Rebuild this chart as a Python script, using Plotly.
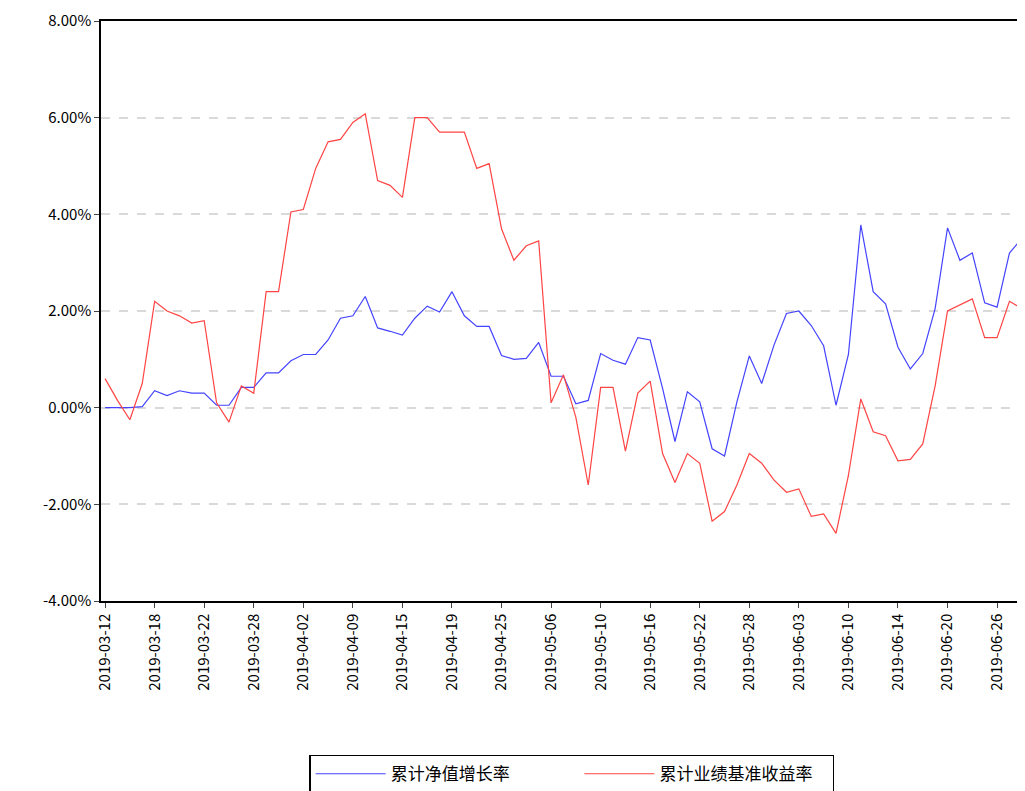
import plotly.graph_objects as go

dates = (
    ["2019-03-%02d" % d for d in [12, 13, 14, 15, 18, 19, 20, 21, 22, 25, 26, 27, 28, 29, 31]]
    + ["2019-04-%02d" % d for d in [1, 2, 3, 4, 8, 9, 10, 11, 12, 15, 16, 17, 18, 19, 22, 23, 24, 25, 26, 29, 30]]
    + ["2019-05-%02d" % d for d in [6, 7, 8, 9, 10, 13, 14, 15, 16, 17, 20, 21, 22, 23, 24, 27, 28, 29, 30, 31]]
    + ["2019-06-%02d" % d for d in [3, 4, 5, 6, 10, 11, 12, 13, 14, 17, 18, 19, 20, 21, 24, 25, 26, 27, 28, 30]]
)

nav_growth = [0, 0, 0, 0.02, 0.35, 0.25, 0.35, 0.3, 0.3, 0.05, 0.05, 0.42, 0.42, 0.72, 0.72,
              0.97, 1.1, 1.1, 1.4, 1.85, 1.9, 2.3, 1.65, 1.58, 1.5, 1.85, 2.1, 1.98, 2.4, 1.9,
              1.68, 1.68, 1.08, 1.0, 1.02, 1.35, 0.65, 0.65, 0.08, 0.15, 1.12, 0.98, 0.9, 1.45, 1.4,
              0.4, -0.7, 0.33, 0.12, -0.85, -1.0, 0.12, 1.07, 0.5, 1.3, 1.95, 2.0, 1.7, 1.28, 0.05,
              1.1, 3.78, 2.4, 2.15, 1.25, 0.8, 1.12, 2.05, 3.72, 3.05, 3.2, 2.17, 2.08, 3.2, 3.5, 3.5]

benchmark = [0.6, 0.15, -0.25, 0.5, 2.2, 2.0, 1.9, 1.75, 1.8, 0.1, -0.3, 0.45, 0.3, 2.4, 2.4,
             4.05, 4.1, 4.95, 5.5, 5.55, 5.9, 6.08, 4.7, 4.6, 4.35, 6.0, 6.0, 5.7, 5.7, 5.7,
             4.95, 5.05, 3.7, 3.05, 3.35, 3.45, 0.1, 0.68, -0.2, -1.6, 0.42, 0.42, -0.9, 0.3, 0.55,
             -0.95, -1.55, -0.95, -1.15, -2.35, -2.15, -1.6, -0.95, -1.15, -1.5, -1.75, -1.68, -2.25, -2.2, -2.6,
             -1.4, 0.18, -0.5, -0.58, -1.1, -1.07, -0.75, 0.45, 2.0, 2.12, 2.25, 1.45, 1.45, 2.2, 2.05, 2.05]

y_ticks = [-4, -2, 0, 2, 4, 6, 8]

idx = list(range(len(dates)))
tick_idx = idx[::4]

fig = go.Figure()
fig.add_trace(go.Scatter(x=idx, y=nav_growth, mode="lines", name="累计净值增长率                 ",
                         line=dict(color="#4444ff", width=1.2)))
fig.add_trace(go.Scatter(x=idx, y=benchmark, mode="lines", name="累计业绩基准收益率    ",
                         line=dict(color="#ff4444", width=1.2)))

fig.update_layout(
    width=1025, height=791,
    margin=dict(l=93, r=0, t=13, b=198),
    plot_bgcolor="white", paper_bgcolor="white",
    font=dict(family="Noto Sans CJK SC", size=15, color="black"),
    legend=dict(orientation="h", x=0.505, xanchor="center", y=-0.265, yanchor="top",
                bordercolor="black", borderwidth=1.5, font=dict(size=17), itemwidth=70),
)
fig.update_xaxes(range=[-0.33, 74.9], tickvals=tick_idx, ticktext=[dates[i] for i in tick_idx],
                 tickangle=-90, showgrid=False, showline=True, linecolor="black", linewidth=1.5,
                 ticks="outside", ticklen=5, zeroline=False, mirror=True, automargin=False)
fig.update_yaxes(range=[-4, 8], tickvals=y_ticks, ticktext=["%.2f%%" % v for v in y_ticks],
                 showgrid=True, gridcolor="#d9d9d9", griddash="dash", gridwidth=1.5,
                 showline=True, linecolor="black", linewidth=1.5, ticks="outside", ticklen=5,
                 zeroline=False, mirror=True, automargin=False)

fig.write_html("out.html")
